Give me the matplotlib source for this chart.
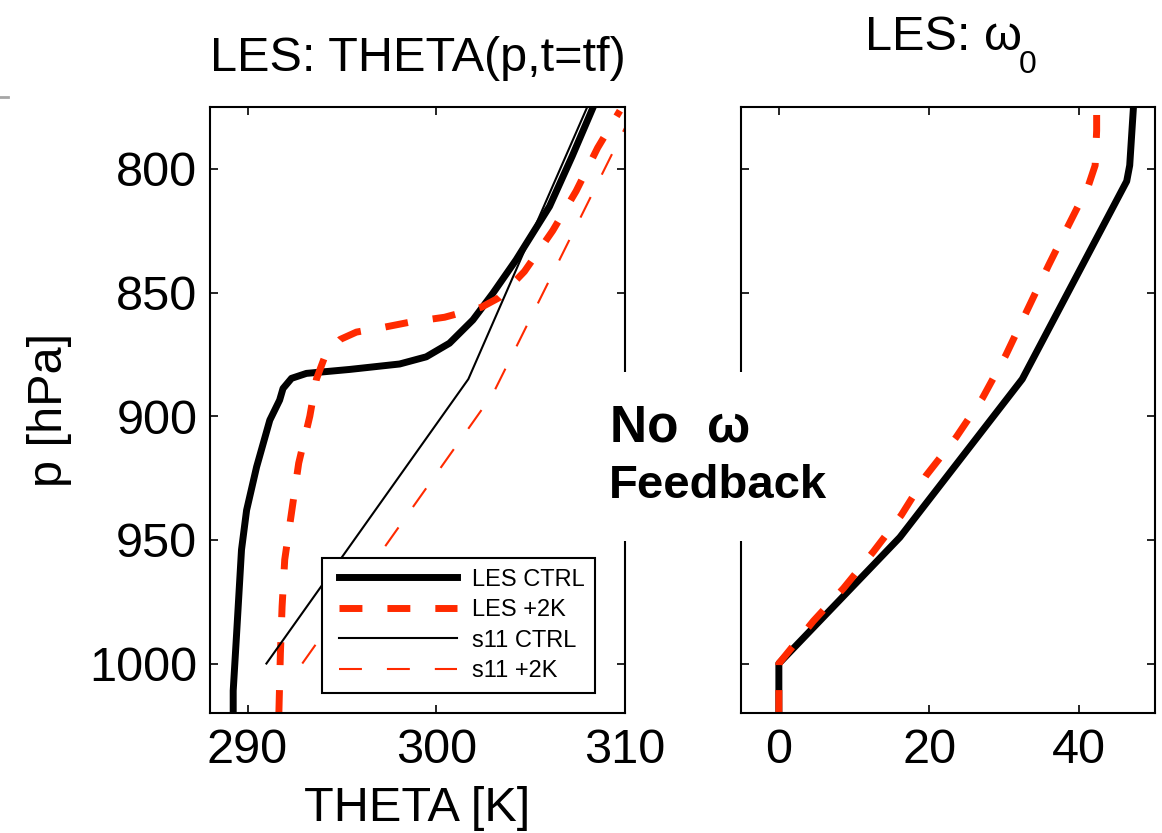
import numpy as np
import matplotlib
matplotlib.use('Agg')
import matplotlib.pyplot as plt
from matplotlib.patches import Rectangle
from matplotlib.lines import Line2D

plt.rcParams['font.family'] = ['Liberation Sans', 'DejaVu Sans']

RED = '#ff2a00'

# potential temperature profiles at t = tf
p_les_ctrl = [1020, 1011, 988, 954, 938, 920.5, 901.6, 893.5, 888.8, 884.7, 882.7,
              881.1, 878.9, 876.0, 870.5, 861.1, 850.3, 836.8, 815.2, 794.9, 775.3]
th_les_ctrl = [289.24, 289.24, 289.42, 289.68, 289.95, 290.48, 291.18, 291.7, 291.88, 292.33, 293.12,
               295.41, 298.06, 299.47, 300.7, 301.94, 303.0, 304.23, 306.0, 307.2, 308.3]

p_les_2k = [1020, 996, 977, 958, 939, 919, 900, 885, 876, 869, 866,
            864, 862, 860, 856, 852, 841.5, 825, 809, 791.5, 776.5]
th_les_2k = [291.66, 291.74, 291.83, 291.97, 292.33, 292.71, 293.3, 293.65, 294.09, 294.9, 295.77,
             297.26, 298.59, 300.44, 302.38, 303.35, 304.67, 306.17, 307.41, 308.55, 309.73]

p_s11_ctrl = [1000, 885, 775]
th_s11_ctrl = [291.0, 301.7, 308.0]

p_s11_2k = [1000, 891, 775]
th_s11_2k = [292.9, 303.0, 310.55]

# subsidence profiles
p_w_ctrl = [1020, 1000, 949, 885, 805, 798.6, 775]
w_ctrl = [0, 0, 16.1, 32.4, 46.3, 46.7, 47.2]

p_w_2k = [1020, 1000, 982.8, 969.6, 954.7, 940, 924, 908.5, 892.7, 875.4,
          855.6, 839, 822.5, 806.8, 798.6, 784.5, 775]
w_2k = [0, 0, 4.6, 8.6, 12.6, 16.3, 19.6, 23.6, 27.1, 30.2,
        33.3, 35.9, 38.6, 41.2, 42.1, 42.3, 42.3]

p_ticks = [800, 850, 900, 950, 1000]
th_ticks = [290, 300, 310]
w_ticks = [0, 20, 40]

W, H = 1162, 833
fig = plt.figure(figsize=(W / 100, H / 100), dpi=100)
ax1 = fig.add_axes([209.8 / W, 1 - 713 / H, (625 - 209.8) / W, (713 - 107) / H])
ax2 = fig.add_axes([741.3 / W, 1 - 713 / H, (1154.5 - 741.3) / W, (713 - 107) / H])

thick = 5.0
thin = 1.5
ax1.plot(th_les_ctrl, p_les_ctrl, color='k', lw=thick, label='LES CTRL')
ax1.plot(th_les_2k, p_les_2k, color=RED, lw=thick, ls=(0, (3.3, 3.6)), label='LES +2K')
ax1.plot(th_s11_ctrl, p_s11_ctrl, color='k', lw=thin, label='s11 CTRL')
ax1.plot(th_s11_2k, p_s11_2k, color=RED, lw=thin, ls=(0, (11, 12)), label='s11 +2K')

ax2.plot(w_ctrl, p_w_ctrl, color='k', lw=thick)
ax2.plot(w_2k, p_w_2k, color=RED, lw=thick, ls=(0, (3.3, 3.6)))

for ax in (ax1, ax2):
    ax.set_ylim(1020, 775)
    ax.set_yticks(p_ticks)
    ax.tick_params(which='both', direction='in', top=True, right=True,
                   length=6, width=1.2, labelsize=35)
    ax.tick_params(axis='x', pad=11)
    ax.tick_params(axis='y', pad=9)
    for s in ax.spines.values():
        s.set_linewidth(1.5)

ax1.set_xlim(288, 310)
ax1.set_xticks(th_ticks)
ax2.set_xlim(-5, 50)
ax2.set_xticks(w_ticks)
ax2.tick_params(labelleft=False)

ax1.set_xlabel('THETA [K]', fontsize=35)
ax1.xaxis.set_label_coords(0.5, -0.12)
ax1.set_ylabel('p [hPa]', fontsize=35)
ax1.yaxis.set_label_coords(-0.332, 0.5)

leg = ax1.legend(loc='upper left', bbox_to_anchor=(321.7 / W, 1 - 558 / H),
                 bbox_transform=fig.transFigure, borderaxespad=0, fontsize=17,
                 numpoints=2, handlelength=5.6, handletextpad=0.3,
                 labelspacing=0.36, borderpad=0.45, fancybox=False, framealpha=1)
leg.get_frame().set_edgecolor('k')
leg.get_frame().set_linewidth(1.5)

fig.text(417.4 / W, 1 - 71 / H, 'LES: THETA(p,t=tf)', fontsize=35, ha='center', va='baseline')
t_omega = fig.text(865 / W, 1 - 50 / H, 'LES: ω', fontsize=35, ha='left', va='baseline')
ax2.annotate('0', xy=(1, 0), xycoords=t_omega, xytext=(-3, -13),
             textcoords='offset pixels', fontsize=23, ha='left', va='baseline',
             annotation_clip=False)

# white block behind the annotation, cutting through the inner spines
fig.add_artist(Rectangle((595 / W, 1 - 541 / H), (845 - 595) / W, (541 - 372) / H,
                         transform=fig.transFigure, facecolor='white',
                         edgecolor='none', zorder=2))
fig.text(610 / W, 1 - 442 / H, 'No  ω', fontsize=37, fontweight='bold',
         ha='left', va='baseline', zorder=3)
fig.text(718 / W, 1 - 498.3 / H, 'Feedback', fontsize=34, fontweight='bold',
         ha='center', va='baseline', zorder=3)

fig.add_artist(Line2D([0, 8 / W], [1 - 97 / H] * 2, transform=fig.transFigure,
                      color='0.65', lw=2))

fig.savefig('out.png', dpi=100)
